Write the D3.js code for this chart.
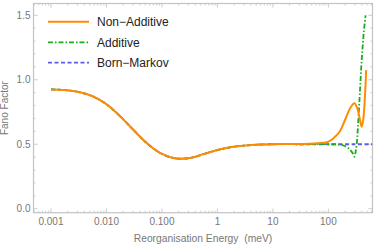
<head>
    <script src="https://d3js.org/d3.v7.min.js"></script>
    <style>
        body { margin: 0; background: #fff; }
        text { font-family: "Liberation Sans", Arial, sans-serif; }
    </style>
</head>

<body>
    <div id="chart"></div>
</body>

<script>
    // reorganisation energy (meV)
    const energyNA = [0.001, 0.00178, 0.00316, 0.00562, 0.01, 0.0178, 0.0316, 0.0562, 0.1, 0.178, 0.316, 0.562, 1, 1.78, 3.16, 5.62, 10, 31.6, 56.2, 100,
        126, 158, 200, 251, 295, 331, 363, 398, 427, 457, 479];
    const nonAdditive = [0.925, 0.92, 0.905, 0.872, 0.81, 0.715, 0.605, 0.5, 0.425, 0.39, 0.393, 0.423, 0.455, 0.478, 0.49, 0.497, 0.5, 0.502, 0.506, 0.52,
        0.55, 0.595, 0.69, 0.785, 0.817, 0.78, 0.71, 0.635, 0.7, 0.88, 1.075];

    const energyAd = [0.001, 0.00178, 0.00316, 0.00562, 0.01, 0.0178, 0.0316, 0.0562, 0.1, 0.178, 0.316, 0.562, 1, 1.78, 3.16, 5.62, 10, 31.6, 100,
        158, 186, 229, 275, 295, 309, 324, 339, 363, 398, 437, 468];
    const additive = [0.925, 0.92, 0.905, 0.872, 0.81, 0.715, 0.605, 0.5, 0.425, 0.39, 0.393, 0.423, 0.455, 0.478, 0.49, 0.497, 0.5, 0.5, 0.5,
        0.497, 0.49, 0.47, 0.43, 0.403, 0.44, 0.5, 0.62, 0.84, 1.15, 1.38, 1.5];

    const energyBM = [0.001, 0.00178, 0.00316, 0.00562, 0.01, 0.0178, 0.0316, 0.0562, 0.1, 0.178, 0.316, 0.562, 1, 1.78, 3.16, 5.62, 10, 31.6, 100, 300, 620];
    const bornMarkov = [0.925, 0.92, 0.905, 0.872, 0.81, 0.715, 0.605, 0.5, 0.425, 0.39, 0.393, 0.423, 0.455, 0.478, 0.49, 0.497, 0.5, 0.5, 0.5, 0.5, 0.5];

    const xTicks = [0.001, 0.01, 0.1, 1, 10, 100];
    const xTickLabels = ["0.001", "0.010", "0.100", "1", "10", "100"];
    const yTicks = [0, 0.5, 1, 1.5];
    const yTickLabels = ["0.0", "0.5", "1.0", "1.5"];

    const seriesNames = ["Non\u2212Additive", "Additive", "Born\u2212Markov"];
    const seriesColors = ["#ff8c00", "#1aad1a", "#5c5cf0"];
    const seriesDash = [null, "5,2,1.5,2", "4,2.5"];

    const W = 374, H = 246;
    const mLeft = 33.5, mRight = 372.5, mTop = 3.5, mBottom = 212.7;

    const svg = d3.select("#chart").append("svg")
        .attr("width", W)
        .attr("height", H);

    const x = d3.scaleLog().domain([Math.pow(10, -3.315), Math.pow(10, 2.795)]).range([mLeft, mRight]);
    const y = d3.scaleLinear().domain([-0.031, 1.5915]).range([mBottom, mTop]);

    svg.append("clipPath").attr("id", "clip")
        .append("rect").attr("x", mLeft).attr("y", mTop).attr("width", mRight - mLeft).attr("height", mBottom - mTop);

    // minor ticks
    let xMinor = [];
    for (let e = -4; e <= 2; e++) {
        for (let k = 1; k <= 9; k++) {
            let v = k * Math.pow(10, e);
            if (x(v) >= mLeft && x(v) <= mRight) xMinor.push({ v: v, major: k == 1 });
        }
    }
    let yMinor = d3.range(0, 16).map(i => ({ v: i / 10, major: i % 5 == 0 }));

    const tickCol = "#aaa";
    const g = svg.append("g");

    // bottom & top ticks
    [[mBottom, -1], [mTop, 1]].forEach(function (side) {
        g.selectAll(null).data(xMinor).enter().append("line")
            .attr("x1", d => x(d.v)).attr("x2", d => x(d.v))
            .attr("y1", side[0]).attr("y2", d => side[0] + side[1] * (d.major ? 4 : 2))
            .attr("stroke", tickCol).attr("stroke-width", 0.6);
    });
    // left & right ticks
    [[mLeft, 1], [mRight, -1]].forEach(function (side) {
        g.selectAll(null).data(yMinor).enter().append("line")
            .attr("y1", d => y(d.v)).attr("y2", d => y(d.v))
            .attr("x1", side[0]).attr("x2", d => side[0] + side[1] * (d.major ? 4 : 2))
            .attr("stroke", tickCol).attr("stroke-width", 0.6);
    });

    // frame
    svg.append("rect")
        .attr("x", mLeft).attr("y", mTop)
        .attr("width", mRight - mLeft).attr("height", mBottom - mTop)
        .attr("fill", "none").attr("stroke", "#c4c4c4").attr("stroke-width", 1.2);

    // tick labels
    svg.selectAll(".xl").data(xTicks).enter().append("text")
        .attr("x", d => x(d)).attr("y", 224.5)
        .attr("text-anchor", "middle").attr("font-size", 10).attr("fill", "#777")
        .text((d, i) => xTickLabels[i]);
    svg.selectAll(".yl").data(yTicks).enter().append("text")
        .attr("x", mLeft - 3).attr("y", d => y(d) + 3.5)
        .attr("text-anchor", "end").attr("font-size", 10).attr("fill", "#777")
        .text((d, i) => yTickLabels[i]);

    svg.append("text")
        .attr("x", (mLeft + mRight) / 2).attr("y", 242)
        .attr("text-anchor", "middle").attr("font-size", 10.3).attr("fill", "#777")
        .text("Reorganisation Energy\u00a0\u00a0(meV)");
    svg.append("text")
        .attr("transform", "translate(7.5," + ((mTop + mBottom) / 2) + ") rotate(-90)")
        .attr("text-anchor", "middle").attr("font-size", 10).attr("fill", "#777")
        .text("Fano Factor");

    // curves
    const line = d3.line()
        .x(d => x(d[0]))
        .y(d => y(d[1]))
        .curve(d3.curveCatmullRom.alpha(0.5));

    const series = [
        d3.zip(energyNA, nonAdditive),
        d3.zip(energyAd, additive),
        d3.zip(energyBM, bornMarkov)
    ];
    const plot = svg.append("g").attr("clip-path", "url(#clip)");
    [2, 1, 0].forEach(function (k) {
        plot.append("path")
            .attr("d", line(series[k]))
            .attr("fill", "none")
            .attr("stroke", seriesColors[k])
            .attr("stroke-width", k == 0 ? 2 : 1.8)
            .attr("stroke-dasharray", seriesDash[k]);
    });

    // legend
    const legY = [21.7, 42.3, 62.7];
    seriesNames.forEach(function (name, i) {
        svg.append("line")
            .attr("x1", 48).attr("x2", 89)
            .attr("y1", legY[i]).attr("y2", legY[i])
            .attr("stroke", seriesColors[i])
            .attr("stroke-width", i == 0 ? 2 : 1.8)
            .attr("stroke-dasharray", seriesDash[i]);
        svg.append("text")
            .attr("x", 97).attr("y", legY[i] + 4.3)
            .attr("font-size", 12).attr("fill", "#222")
            .text(name);
    });
</script>
